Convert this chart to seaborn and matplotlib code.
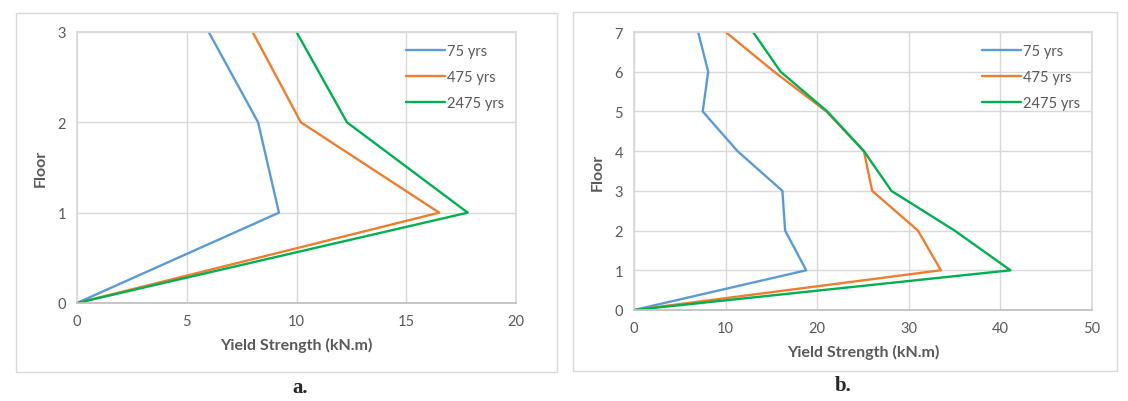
import pandas as pd
import seaborn as sns
from matplotlib import pyplot as plt
from matplotlib.patches import Rectangle

sns.set_theme(style="white")
plt.rcParams["font.family"] = ["Lato", "DejaVu Sans"]

periods = ["75 yrs", "475 yrs", "2475 yrs"]
colors = ["#5B9BD5", "#ED7D31", "#00B050"]

# panel a: 3-storey frame
floors_a = [0, 1, 2, 3]
strength_a = {
    "75 yrs": [0, 9.2, 8.25, 6.0],
    "475 yrs": [0, 16.5, 10.2, 8.0],
    "2475 yrs": [0, 17.8, 12.3, 10.0],
}

# panel b: 7-storey frame
floors_b = [0, 1, 2, 3, 4, 5, 6, 7]
strength_b = {
    "75 yrs": [0, 18.8, 16.5, 16.2, 11.3, 7.5, 8.1, 7.0],
    "475 yrs": [0, 33.5, 31.0, 26.0, 25.1, 21.0, 15.3, 10.0],
    "2475 yrs": [0, 41.1, 35.0, 28.1, 25.1, 21.1, 16.0, 13.0],
}


def tidy(floors, strength):
    rows = []
    for p in periods:
        for f, s in zip(floors, strength[p]):
            rows.append({"floor": f, "strength": s, "period": p})
    return pd.DataFrame(rows)


def style_axis(ax, xmax, xstep, ymax):
    ax.set_xlim(0, xmax)
    ax.set_ylim(0, ymax)
    ax.set_xticks(range(0, xmax + 1, xstep))
    ax.set_yticks(range(0, ymax + 1))
    ax.grid(True, color="#D9D9D9", linewidth=1)
    ax.set_axisbelow(True)
    for side in ["top", "right", "left"]:
        ax.spines[side].set_color("#D9D9D9")
    ax.spines["bottom"].set_color("#BFBFBF")
    ax.tick_params(axis="both", labelsize=10.5, colors="#595959", length=0, pad=8)
    ax.set_xlabel("Yield Strength (kN.m)", fontsize=11.5, fontweight="bold",
                  color="#595959", labelpad=6)
    ax.set_ylabel("Floor", fontsize=11.5, fontweight="bold", color="#595959",
                  labelpad=7)
    leg = ax.legend(loc="upper right", frameon=False, fontsize=10.5,
                    handlelength=2.7, handletextpad=0.15, labelspacing=0.85,
                    borderaxespad=0.4)
    for t in leg.get_texts():
        t.set_color("#595959")


fig = plt.figure(figsize=(11.28, 4.02), dpi=100)

# chart frames
fig.patches.append(Rectangle((16 / 1128, 1 - 373 / 402), 541 / 1128, 359 / 402,
                             transform=fig.transFigure, fill=False,
                             edgecolor="#D9D9D9", linewidth=1))
fig.patches.append(Rectangle((573 / 1128, 1 - 372 / 402), 544 / 1128, 359 / 402,
                             transform=fig.transFigure, fill=False,
                             edgecolor="#D9D9D9", linewidth=1))

ax1 = fig.add_axes([77 / 1128, 1 - 304 / 402, 439 / 1128, 271 / 402])
sns.lineplot(data=tidy(floors_a, strength_a), x="strength", y="floor",
             hue="period", palette=colors, orient="y", linewidth=1.7, ax=ax1)
style_axis(ax1, 20, 5, 3)

ax2 = fig.add_axes([634 / 1128, 1 - 311 / 402, 458 / 1128, 278 / 402])
sns.lineplot(data=tidy(floors_b, strength_b), x="strength", y="floor",
             hue="period", palette=colors, orient="y", linewidth=1.7, ax=ax2)
style_axis(ax2, 50, 10, 7)

fig.text(300 / 1128, 1 - 388 / 402, "a.", family="Liberation Serif",
         fontweight="bold", fontsize=15, ha="center", va="center")
fig.text(843 / 1128, 1 - 386 / 402, "b.", family="Liberation Serif",
         fontweight="bold", fontsize=15, ha="center", va="center")

plt.savefig("out.png", dpi=100)
